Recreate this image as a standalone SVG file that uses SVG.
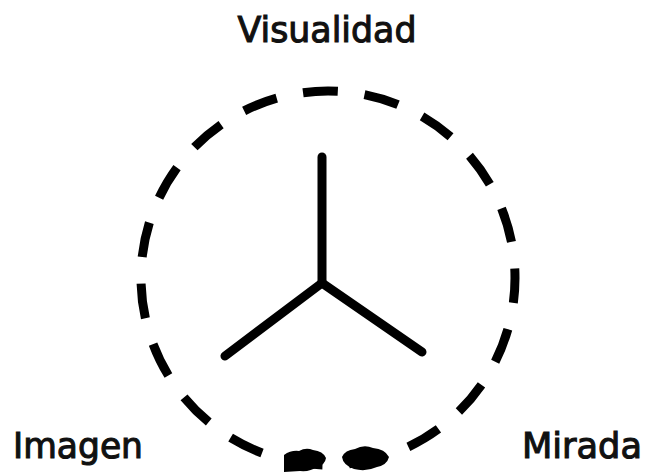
<svg xmlns="http://www.w3.org/2000/svg" width="645" height="472" viewBox="0 0 645 472">
<style>
.lbl{font-family:"DejaVu Sans","Liberation Sans",sans-serif;font-size:35px;fill:#111;stroke:#111;stroke-width:1.1}
.ring{fill:none;stroke:#000;stroke-width:9;stroke-dasharray:35 26.84;stroke-dashoffset:10}
.spoke{fill:none;stroke:#000;stroke-width:9;stroke-linejoin:round;stroke-linecap:round}
</style>
<rect width="645" height="472" fill="#fff"/>
<g id="ring">
<circle class="ring" cx="328" cy="278" r="187"/>
<path d="M284 455 Q291 450 299 451 Q306 447 313 450 Q323 451 326 458 Q325 465 317 467 Q310 472 300 471 L284 472 Z" fill="#000"/>
<path d="M342 457 Q345 450 355 449 Q364 444 373 448 Q385 449 389 457 Q387 465 377 467 Q366 472 354 469 Q343 465 342 457 Z" fill="#000"/>
</g>
<g id="connectors">
<path class="spoke" d="M322 157 L322 283"/>
<path class="spoke" d="M322 283 L225 356"/>
<path class="spoke" d="M322 283 L422 352"/>
</g>
<g id="visualidad"><text class="lbl" x="327" y="42" text-anchor="middle" textLength="179" lengthAdjust="spacingAndGlyphs">Visualidad</text></g>
<g id="imagen"><text class="lbl" x="13" y="458" textLength="130" lengthAdjust="spacingAndGlyphs">Imagen</text></g>
<g id="mirada"><text class="lbl" x="522" y="458" textLength="120" lengthAdjust="spacingAndGlyphs">Mirada</text></g>
</svg>
